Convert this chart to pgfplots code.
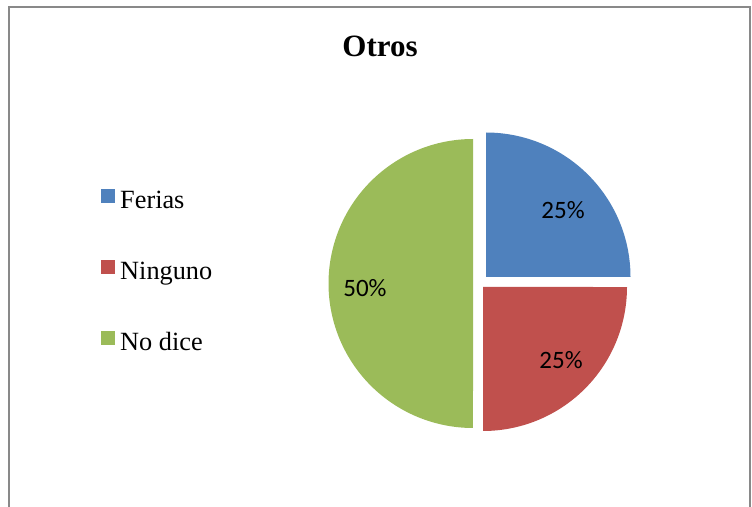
\documentclass[border=0pt]{standalone}
\usepackage{fontspec}
\setmainfont{Liberation Serif}
\newfontfamily\calibri{Carlito}
\usepackage{pgfplots}
\pgfplotsset{compat=1.18}
\definecolor{cblue}{HTML}{4F81BD}
\definecolor{cred}{HTML}{C0504D}
\definecolor{cgreen}{HTML}{9BBB59}
\definecolor{frame}{HTML}{898989}
% values (percent)
\def\vFerias{25}
\def\vNinguno{25}
\def\vNodice{50}
\begin{document}
\begin{tikzpicture}
\useasboundingbox (0,0) rectangle (752pt,506pt);
\pgfmathsetmacro{\aA}{90}
\pgfmathsetmacro{\aB}{90-3.6*\vFerias}
\pgfmathsetmacro{\aC}{\aB-3.6*\vNinguno}
\pgfmathsetmacro{\aD}{\aC-3.6*\vNodice}
\begin{axis}[
  at={(0,0)}, anchor=south west,
  scale only axis, width=752pt, height=506pt,
  xmin=0, xmax=752, ymin=0, ymax=506,
  hide axis,
  legend style={at={(axis cs:101,317)}, anchor=north west, draw=none, fill=none,
    font=\fontsize{26.3}{26.3}\selectfont, inner sep=0pt, row sep=46pt, column sep=5pt,
    nodes={inner sep=0pt, text height=18pt, text depth=6pt}},
  legend cell align=left,
  legend image code/.code={\fill[#1] (0pt,-1pt) rectangle (14pt,13pt);},
]
\draw[frame, line width=2pt] (9,-10) rectangle (750,499);
\addplot[fill=cblue, draw=none, domain=\aB:\aA, samples=90]
  ({486+144.5*cos(x)},{229+144.5*sin(x)}) -- (486,229) -- cycle;
\addlegendentry{Ferias}
\addplot[fill=cred, draw=none, domain=\aC:\aB, samples=90]
  ({483+144*cos(x)},{219+144*sin(x)}) -- (483,219) -- cycle;
\addlegendentry{Ninguno}
\addplot[fill=cgreen, draw=none, domain=\aD:\aC, samples=180]
  ({473+144.5*cos(x)},{222.5+144.5*sin(x)}) -- (473,222.5) -- cycle;
\addlegendentry{No dice}
\node[font=\calibri\fontsize{25}{25}\selectfont] at (563,296) {\vFerias\%};
\node[font=\calibri\fontsize{25}{25}\selectfont] at (561,146) {\vNinguno\%};
\node[font=\calibri\fontsize{25}{25}\selectfont] at (365,218) {\vNodice\%};
\node[font=\bfseries\fontsize{31}{31}\selectfont] at (380,460) {Otros};
\end{axis}
\end{tikzpicture}
\end{document}
